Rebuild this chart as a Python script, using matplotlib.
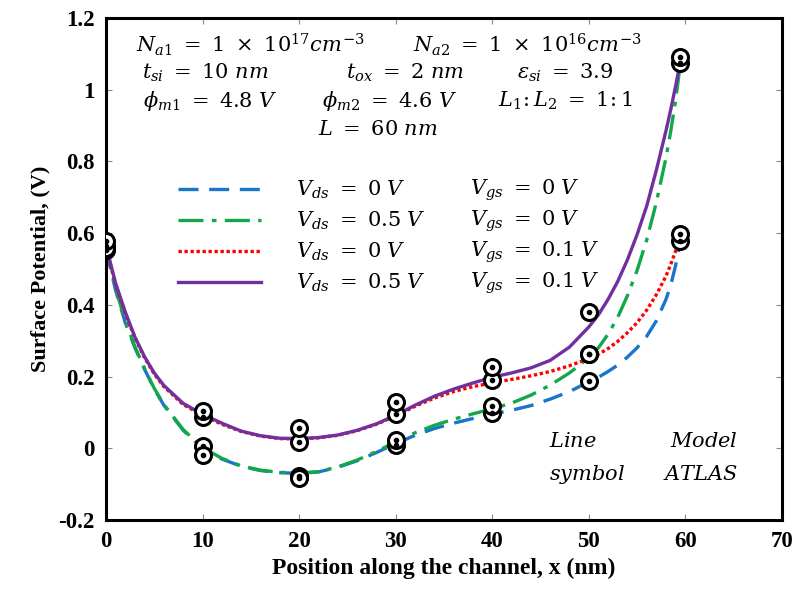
import matplotlib
matplotlib.use("Agg")
import matplotlib.pyplot as plt

plt.rcParams["mathtext.fontset"] = "dejavuserif"

# Model curves (position in nm, surface potential in V)
x_model = [0, 1, 2, 3, 4, 5, 6, 8, 10, 12, 14, 16, 18, 20, 22, 24, 26, 28, 30,
           32, 34, 36, 38, 40, 42, 44, 46, 48, 50, 51, 52, 53, 54, 55, 56, 57,
           58, 58.5, 59, 59.5]
psi_vds0_vgs0 = [0.555, 0.44, 0.35, 0.28, 0.22, 0.165, 0.12, 0.05, 0.0, -0.03,
                 -0.05, -0.062, -0.068, -0.07, -0.066, -0.053, -0.035, -0.012,
                 0.013, 0.036, 0.055, 0.07, 0.083, 0.095, 0.106, 0.119, 0.137,
                 0.158, 0.185, 0.198, 0.214, 0.232, 0.254, 0.28, 0.312, 0.355,
                 0.415, 0.455, 0.51, 0.575]
psi_vds05_vgs0 = [0.565, 0.445, 0.355, 0.283, 0.222, 0.167, 0.122, 0.052, 0.002,
                  -0.028, -0.049, -0.061, -0.067, -0.069, -0.065, -0.052, -0.033,
                  -0.009, 0.018, 0.043, 0.064, 0.081, 0.096, 0.11, 0.126, 0.148,
                  0.176, 0.21, 0.252, 0.28, 0.318, 0.365, 0.425, 0.495, 0.58,
                  0.685, 0.81, 0.885, 0.97, 1.075]
psi_vds0_vgs01 = [0.56, 0.455, 0.375, 0.308, 0.252, 0.207, 0.172, 0.122, 0.092,
                  0.067, 0.047, 0.034, 0.027, 0.026, 0.029, 0.036, 0.049, 0.067,
                  0.09, 0.117, 0.14, 0.158, 0.172, 0.182, 0.192, 0.202, 0.214,
                  0.23, 0.25, 0.262, 0.278, 0.298, 0.322, 0.35, 0.385, 0.428,
                  0.48, 0.513, 0.55, 0.59]
psi_vds05_vgs01 = [0.565, 0.46, 0.38, 0.31, 0.255, 0.21, 0.175, 0.125, 0.095,
                   0.07, 0.048, 0.035, 0.028, 0.027, 0.03, 0.037, 0.05, 0.068,
                   0.092, 0.12, 0.145, 0.165, 0.182, 0.198, 0.21, 0.224, 0.245,
                   0.282, 0.338, 0.372, 0.415, 0.465, 0.525, 0.595, 0.675,
                   0.775, 0.885, 0.945, 1.01, 1.08]

# ATLAS simulation points
x_atlas = [0, 10, 20, 30, 40, 50, 59.5]
atlas_vds0_vgs0 = [0.553, 0.005, -0.078, 0.008, 0.097, 0.188, 0.578]
atlas_vds05_vgs0 = [0.565, -0.02, -0.082, 0.024, 0.118, 0.263, 1.075]
atlas_vds0_vgs01 = [0.558, 0.087, 0.018, 0.095, 0.19, 0.263, 0.597]
atlas_vds05_vgs01 = [0.578, 0.105, 0.056, 0.13, 0.227, 0.38, 1.09]

vds_labels = [r"$V_{ds}\ =\ 0\ V$", r"$V_{ds}\ =\ 0.5\ V$",
              r"$V_{ds}\ =\ 0\ V$", r"$V_{ds}\ =\ 0.5\ V$"]
vgs_labels = [r"$V_{gs}\ =\ 0\ V$", r"$V_{gs}\ =\ 0\ V$",
              r"$V_{gs}\ =\ 0.1\ V$", r"$V_{gs}\ =\ 0.1\ V$"]

fig = plt.figure(figsize=(8.06, 5.95), dpi=100)
ax = fig.add_axes([0.1315, 0.126, 0.8385, 0.844])

styles = [
    dict(color="#1a75c8", linestyle=(0, (6, 3.2))),
    dict(color="#12a84a", linestyle=(0, (7.5, 2.5, 1.4, 2.5))),
    dict(color="#ff0000", linestyle=(0, (1, 0.8))),
    dict(color="#7030a0", linestyle="-"),
]
model = [psi_vds0_vgs0, psi_vds05_vgs0, psi_vds0_vgs01, psi_vds05_vgs01]
atlas = [atlas_vds0_vgs0, atlas_vds05_vgs0, atlas_vds0_vgs01, atlas_vds05_vgs01]

handles = []
for psi, st in zip(model, styles):
    h, = ax.plot(x_model, psi, linewidth=2.4, zorder=2, **st)
    handles.append(h)

for pts in atlas:
    ax.plot(x_atlas, pts, linestyle="none", marker="o", markersize=11.5,
            markerfacecolor="white", markeredgecolor="black",
            markeredgewidth=2.2, zorder=3)
    ax.plot(x_atlas, pts, linestyle="none", marker="o", markersize=3,
            color="black", zorder=4)

ax.set_xlim(0, 70)
ax.set_ylim(-0.2, 1.2)
ax.set_xticks(range(0, 71, 10))
ax.set_yticks([-0.2, 0, 0.2, 0.4, 0.6, 0.8, 1.0, 1.2])
ax.set_yticklabels(["-0.2", "0", "0.2", "0.4", "0.6", "0.8", "1", "1.2"])
ax.tick_params(direction="in", top=True, right=True, length=4, width=0.8,
               color="#888888", pad=8)
for lab in ax.get_xticklabels() + ax.get_yticklabels():
    lab.set_fontfamily("Liberation Serif")
    lab.set_fontweight("bold")
    lab.set_fontsize(16.5)
for sp in ax.spines.values():
    sp.set_linewidth(2.2)

ax.set_xlabel("Position along the channel, x (nm)", family="Liberation Serif",
              weight="bold", fontsize=17, labelpad=4)
ax.set_ylabel("Surface Potential, (V)", family="Liberation Serif",
              weight="bold", fontsize=16, labelpad=6)

# Device parameters
mfs = 15
params = [
    (14.9, 1.125, r"$N_{a1}\ =\ 1\ \times\ 10^{17}cm^{-3}$"),
    (43.6, 1.125, r"$N_{a2}\ =\ 1\ \times\ 10^{16}cm^{-3}$"),
    (10.3, 1.047, r"$t_{si}\ =\ 10\ nm$"),
    (31.0, 1.047, r"$t_{ox}\ =\ 2\ nm$"),
    (47.6, 1.047, r"$\varepsilon_{si}\ =\ 3.9$"),
    (10.8, 0.969, r"$\phi_{m1}\ =\ 4.8\ V$"),
    (29.4, 0.969, r"$\phi_{m2}\ =\ 4.6\ V$"),
    (47.6, 0.969, r"$L_1\!:L_2\ =\ 1\!:1$"),
    (28.2, 0.889, r"$L\ =\ 60\ nm$"),
]
for x, y, s in params:
    ax.text(x, y, s, ha="center", va="center", fontsize=mfs)

leg = ax.legend(handles, vds_labels, loc="upper left",
                bbox_to_anchor=(0.106, 0.679), frameon=False, fontsize=mfs,
                handlelength=4.0, handletextpad=1.7, labelspacing=0.42,
                borderaxespad=0, borderpad=0)

# Gate-voltage column, one row per legend entry
fig.canvas.draw()
inv = ax.transAxes.inverted()
for t, s in zip(leg.get_texts(), vgs_labels):
    bb = t.get_window_extent()
    _, yc = inv.transform((bb.x0, 0.5 * (bb.y0 + bb.y1)))
    ax.text(0.538, yc, s, ha="left", va="center", fontsize=mfs,
            transform=ax.transAxes)

ax.text(45.9, 0.02, r"$Line$", ha="left", va="center", fontsize=mfs)
ax.text(45.9, -0.073, r"$symbol$", ha="left", va="center", fontsize=mfs)
ax.text(65.4, 0.02, r"$Model$", ha="right", va="center", fontsize=mfs)
ax.text(65.4, -0.073, r"$ATLAS$", ha="right", va="center", fontsize=mfs)

fig.savefig("out.png", dpi=100)
